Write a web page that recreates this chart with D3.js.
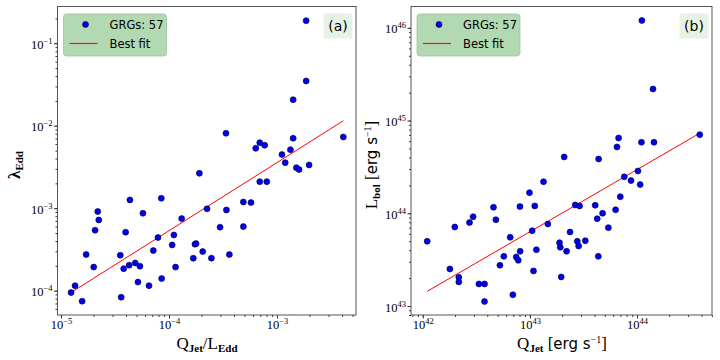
<!DOCTYPE html>
<html>
<head>
<meta charset="utf-8">
<script src="https://cdn.jsdelivr.net/npm/d3@7"></script>
<style>
body { margin: 0; background: #fff; }
svg { display: block; }
</style>
</head>
<body>
<svg id="chart" width="720" height="360"></svg>
<script>
// Panel (a): Q_Jet / L_Edd against lambda_Edd
var ratioA = [1.86e-3, 1.86e-3, 1.41e-3, 3.37e-4, 4.11e-3, 6.92e-4, 6.35e-4, 7.69e-4, 1.41e-3, 1.33e-3,
              1.11e-3, 1.19e-3, 1.98e-3, 1.51e-3, 1.60e-3, 1.91e-4, 6.92e-4, 8.04e-4, 4.35e-5, 8.49e-5,
              2.19e-5, 2.24e-5, 2.07e-5, 5.74e-5, 3.97e-5, 1.71e-5, 2.01e-5, 3.54e-5, 3.81e-5, 4.28e-5,
              4.87e-5, 5.38e-5, 5.16e-5, 6.53e-5, 8.55e-5, 7.16e-5, 7.91e-5, 1.07e-4, 1.11e-4, 1.31e-4,
              1.15e-4, 1.68e-4, 1.74e-4, 1.78e-4, 2.05e-4, 2.25e-4, 2.47e-4, 2.97e-4, 3.40e-4, 3.62e-4,
              4.88e-4, 5.74e-4, 4.88e-4, 1.24e-5, 1.35e-5, 1.57e-5, 3.61e-5];
var lambdaA = [1.88e-1, 3.49e-2, 2.07e-2, 8.1e-3, 7.31e-3, 6.24e-3, 5.33e-3, 5.81e-3, 7.05e-3, 5.13e-3,
               4.47e-3, 3.57e-3, 3.35e-3, 3.10e-3, 2.94e-3, 2.65e-3, 2.10e-3, 2.10e-3, 1.26e-3, 1.32e-3,
               9.1e-4, 7.21e-4, 5.41e-4, 8.69e-4, 5.12e-4, 2.74e-4, 1.93e-4, 2.69e-4, 1.85e-4, 2.04e-4,
               2.17e-4, 1.98e-4, 1.27e-4, 1.15e-4, 1.40e-4, 3.06e-4, 4.41e-4, 3.59e-4, 4.74e-4, 7.48e-4,
               1.93e-4, 2.48e-4, 3.66e-4, 3.72e-4, 2.98e-4, 9.82e-4, 2.48e-4, 5.89e-4, 9.53e-4, 2.74e-4,
               1.19e-3, 1.17e-3, 5.98e-4, 9.48e-5, 1.15e-4, 7.46e-5, 8.34e-5];
var fitAx = [1.24e-5, 4.11e-3];
var fitAy = [9.5e-5, 1.15e-2];

// Panel (b): Q_Jet against L_bol (erg/s)
var qjetB = [1.11e44, 1.41e44, 3.85e44, 6.73e43, 6.50e43, 1.10e44, 1.44e44, 2.09e43, 4.38e43, 1.02e44,
             7.60e43, 1.34e43, 8.79e43, 1.07e44, 9.91e42, 6.98e43, 4.57e42, 8.07e42, 1.11e43, 2.95e42,
             2.73e42, 4.81e42, 2.65e43, 2.91e43, 4.07e43, 4.77e43, 6.31e43, 4.25e43, 1.99e42, 1.47e43,
             1.05e43, 2.37e43, 5.40e43, 1.10e42, 6.55e42, 1.89e43, 1.92e43, 2.77e43, 2.85e43, 3.29e43,
             2.20e43, 1.15e43, 8.11e42, 5.71e42, 7.45e42, 7.78e42, 4.35e43, 5.25e42, 1.79e42, 1.08e43,
             2.17e42, 2.17e42, 1.96e43, 3.34e42, 3.77e42, 6.93e42, 3.77e42];
var lbolB = [1.20e46, 2.19e45, 7.05e44, 6.49e44, 5.19e44, 5.83e44, 5.83e44, 4.05e44, 3.85e44, 2.86e44,
             2.47e44, 2.19e44, 2.25e44, 2.04e44, 1.67e44, 1.51e44, 1.16e44, 1.18e44, 1.20e44, 9.18e43,
             7.93e43, 8.53e43, 1.23e44, 1.20e44, 1.22e44, 1.00e44, 1.09e44, 8.74e43, 7.11e43, 7.67e43,
             6.49e43, 6.28e43, 7.00e43, 4.99e43, 5.51e43, 4.82e43, 4.30e43, 4.99e43, 4.44e43, 5.06e43,
             3.89e43, 4.05e43, 3.89e43, 3.43e43, 3.38e43, 3.11e43, 3.43e43, 2.75e43, 2.51e43, 2.39e43,
             2.04e43, 1.82e43, 2.06e43, 1.73e43, 1.73e43, 1.32e43, 1.12e43];
var fitBx = [1.10e42, 3.85e44];
var fitBy = [1.44e43, 7.30e44];

// Labelled decades and their exponents
var majorAx = [1e-5, 1e-4, 1e-3],            expAx = ["\u22125", "\u22124", "\u22123"];
var majorAy = [1e-4, 1e-3, 1e-2, 1e-1],      expAy = ["\u22124", "\u22123", "\u22122", "\u22121"];
var majorBx = [1e42, 1e43, 1e44],            expBx = ["42", "43", "44"];
var majorBy = [1e43, 1e44, 1e45, 1e46],      expBy = ["43", "44", "45", "46"];

var legendLabels = ["GRGs: 57", "Best fit"];

var svg = d3.select("#chart");
var serif = "'Liberation Serif', 'DejaVu Serif', serif";
var sans = "'DejaVu Sans', sans-serif";

function powLabel(text, exp) {
    text.append("tspan").text("10");
    text.append("tspan").attr("dy", -5).attr("font-size", 8.5).text(exp);
}

function drawPanel(p) {
    var g = svg.append("g").attr("class", "panel");
    var x = d3.scaleLog().domain(p.xDomain).range([p.left, p.right]);
    var y = d3.scaleLog().domain(p.yDomain).range([p.bottom, p.top]);

    // minor ticks
    g.append("g").attr("transform", "translate(0," + p.bottom + ")")
        .call(d3.axisBottom(x).tickValues(x.ticks()).tickSize(2).tickFormat(""))
        .call(function(a) { a.select(".domain").remove(); });
    g.append("g").attr("transform", "translate(" + p.left + ",0)")
        .call(d3.axisLeft(y).tickValues(y.ticks()).tickSize(2).tickFormat(""))
        .call(function(a) { a.select(".domain").remove(); });

    // major ticks with 10^n labels
    var xa = g.append("g").attr("transform", "translate(0," + p.bottom + ")")
        .call(d3.axisBottom(x).tickValues(p.xMajor).tickSize(3.5).tickFormat(""))
        .call(function(a) { a.select(".domain").remove(); });
    xa.selectAll(".tick").append("text")
        .attr("y", 14).attr("fill", "#000")
        .attr("font-family", serif).attr("font-size", 12.5)
        .attr("text-anchor", "middle")
        .each(function(d, i) { powLabel(d3.select(this), p.xExp[i]); });

    var ya = g.append("g").attr("transform", "translate(" + p.left + ",0)")
        .call(d3.axisLeft(y).tickValues(p.yMajor).tickSize(3.5).tickFormat(""))
        .call(function(a) { a.select(".domain").remove(); });
    ya.selectAll(".tick").append("text")
        .attr("x", -5).attr("y", 5).attr("fill", "#000")
        .attr("font-family", serif).attr("font-size", 12.5)
        .attr("text-anchor", "end")
        .each(function(d, i) { powLabel(d3.select(this), p.yExp[i]); });

    g.selectAll(".tick line").attr("stroke", "#333");

    // fit line
    g.append("line")
        .attr("x1", x(p.fitX[0])).attr("y1", y(p.fitY[0]))
        .attr("x2", x(p.fitX[1])).attr("y2", y(p.fitY[1]))
        .attr("stroke", "#ff0000").attr("stroke-width", 1);

    // points
    g.append("g").selectAll("circle")
        .data(p.xs)
        .enter()
        .append("circle")
        .attr("cx", function(d) { return x(d); })
        .attr("cy", function(d, i) { return y(p.ys[i]); })
        .attr("r", 3)
        .attr("fill", "#0000ee")
        .attr("stroke", "#00003a")
        .attr("stroke-width", 0.6);

    // frame
    g.append("rect")
        .attr("x", p.left).attr("y", p.top)
        .attr("width", p.right - p.left).attr("height", p.bottom - p.top)
        .attr("fill", "none").attr("stroke", "#555").attr("stroke-width", 1);

    // legend
    var lg = g.append("g").attr("transform", "translate(" + (p.left + 6) + "," + (p.top + 7.5) + ")");
    lg.append("rect")
        .attr("width", 103).attr("height", 42).attr("rx", 3)
        .attr("fill", "#b3d9b3").attr("stroke", "#9cc79c").attr("stroke-width", 0.8);
    lg.append("circle").attr("cx", 22).attr("cy", 10.5).attr("r", 3)
        .attr("fill", "#0000ee").attr("stroke", "#00003a").attr("stroke-width", 0.6);
    lg.append("line").attr("x1", 6).attr("x2", 34).attr("y1", 29.5).attr("y2", 29.5)
        .attr("stroke", "#ff1010").attr("stroke-width", 1.2);
    lg.selectAll("text.lab")
        .data(legendLabels)
        .enter()
        .append("text")
        .attr("class", "lab")
        .attr("x", 46)
        .attr("y", function(d, i) { return 15 + i * 18.5; })
        .attr("font-family", sans).attr("font-size", 11.5)
        .text(function(d) { return d; });

    // panel tag
    var tg = g.append("g").attr("transform", "translate(" + (p.right - 32.5) + "," + (p.top + 7) + ")");
    tg.append("rect").attr("width", 29).attr("height", 25).attr("rx", 2)
        .attr("fill", "#e6f2e6");
    tg.append("text").attr("x", 14.5).attr("y", 17.5).attr("text-anchor", "middle")
        .attr("font-family", sans).attr("font-size", 14).text(p.tag);

    return g;
}

var gA = drawPanel({
    left: 57.5, right: 356, top: 6.5, bottom: 315,
    xDomain: [Math.pow(10, -5.032), Math.pow(10, -2.269)],
    yDomain: [Math.pow(10, -4.295), Math.pow(10, -0.554)],
    xMajor: majorAx, xExp: expAx, yMajor: majorAy, yExp: expAy,
    xs: ratioA, ys: lambdaA, fitX: fitAx, fitY: fitAy, tag: "(a)"
});

var gB = drawPanel({
    left: 411, right: 712, top: 6.5, bottom: 315,
    xDomain: [Math.pow(10, 41.89), Math.pow(10, 44.70)],
    yDomain: [Math.pow(10, 42.903), Math.pow(10, 46.23)],
    xMajor: majorBx, xExp: expBx, yMajor: majorBy, yExp: expBy,
    xs: qjetB, ys: lbolB, fitX: fitBx, fitY: fitBy, tag: "(b)"
});

// axis titles
var tA = svg.append("text").attr("x", 207).attr("y", 349)
    .attr("text-anchor", "middle").attr("font-family", serif).attr("font-size", 17);
tA.append("tspan").text("Q");
tA.append("tspan").attr("dy", 3).attr("font-size", 11).attr("font-weight", "bold").text("Jet");
tA.append("tspan").attr("dy", -3).text("/L");
tA.append("tspan").attr("dy", 3).attr("font-size", 11).attr("font-weight", "bold").text("Edd");

var tB = svg.append("text").attr("x", 562).attr("y", 349)
    .attr("text-anchor", "middle").attr("font-family", serif).attr("font-size", 17);
tB.append("tspan").text("Q");
tB.append("tspan").attr("dy", 3).attr("font-size", 11).attr("font-weight", "bold").text("Jet");
tB.append("tspan").attr("dy", -3).text(" [");
tB.append("tspan").attr("font-family", sans).attr("font-size", 15).text("erg s");
tB.append("tspan").attr("dy", -6).attr("font-size", 10).text("\u22121");
tB.append("tspan").attr("dy", 6).text("]");

var lA = svg.append("text").attr("transform", "translate(20,165) rotate(-90)")
    .attr("text-anchor", "middle").attr("font-family", serif).attr("font-size", 17);
lA.append("tspan").attr("font-weight", "bold").text("\u03bb");
lA.append("tspan").attr("dy", 3).attr("font-size", 11).attr("font-weight", "bold").text("Edd");

var lB = svg.append("text").attr("transform", "translate(377,165) rotate(-90)")
    .attr("text-anchor", "middle").attr("font-family", serif).attr("font-size", 17);
lB.append("tspan").text("L");
lB.append("tspan").attr("dy", 3).attr("font-size", 11).attr("font-weight", "bold").text("bol");
lB.append("tspan").attr("dy", -3).text(" [");
lB.append("tspan").attr("font-family", sans).attr("font-size", 15).text("erg s");
lB.append("tspan").attr("dy", -6).attr("font-size", 10).text("\u22121");
lB.append("tspan").attr("dy", 6).text("]");
</script>
</body>
</html>
